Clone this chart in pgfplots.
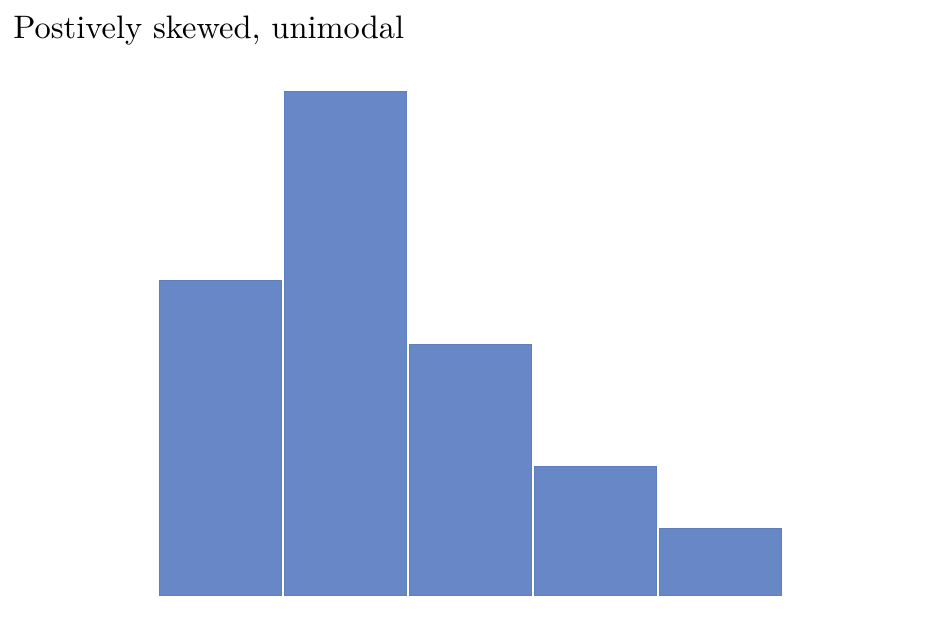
\documentclass[border=0pt]{standalone}
\usepackage{graphicx}
\usepackage{pgfplots}
\pgfplotsset{compat=1.18}
\definecolor{barblue}{HTML}{6787C6}
\definecolor{baredge}{HTML}{5E7EC0}
\begin{document}
\begin{tikzpicture}
\useasboundingbox (0,0) rectangle (466pt,313.5pt);
\node[anchor=base west, inner sep=0pt] at (6.5pt,294pt) {\scalebox{1.625}{\normalsize Postively skewed, unimodal}};
\begin{axis}[
  at={(79pt,16pt)}, anchor=south west,
  scale only axis, width=312.5pt, height=252pt,
  xmin=0.5, xmax=5.5, ymin=0, ymax=8,
  hide axis, clip=false,
  ybar, bar width=61.3pt,
]
\addplot[fill=barblue, draw=baredge, line width=0.4pt] coordinates {(1,5) (2,8) (3,3.98) (4,2.04) (5,1.05)};
\end{axis}
\end{tikzpicture}
\end{document}
